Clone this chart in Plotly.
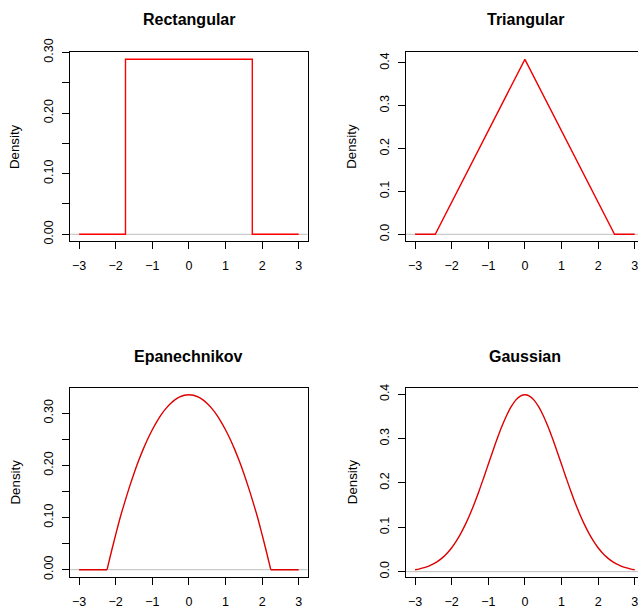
import plotly.graph_objects as go

# ---------------- data ----------------
titles = ["Rectangular", "Triangular", "Epanechnikov", "Gaussian"]

rect_x = [-3.0, -1.732, -1.732, 1.732, 1.732, 3.0]
rect_y = [0.0, 0.0, 0.2887, 0.2887, 0.0, 0.0]

tri_x = [-3.0, -2.449, 0.0, 2.449, 3.0]
tri_y = [0.0, 0.0, 0.4082, 0.0, 0.0]

# Epanechnikov: flat tails and the curved part (None separates the pieces)
epa_x = [-3.0, -2.236, None,
         -2.236, -2.125, -2.0, -1.875, -1.75, -1.625, -1.5, -1.375, -1.25, -1.125, -1.0,
         -0.875, -0.75, -0.625, -0.5, -0.375, -0.25, -0.125, 0.0,
         0.125, 0.25, 0.375, 0.5, 0.625, 0.75, 0.875, 1.0, 1.125, 1.25, 1.375, 1.5,
         1.625, 1.75, 1.875, 2.0, 2.125, 2.236, None,
         2.236, 3.0]
epa_y = [0.0, 0.0, None,
         0.0, 0.0325, 0.0671, 0.1006, 0.1300, 0.1583, 0.1845, 0.2086, 0.2306, 0.2505, 0.2683,
         0.2840, 0.2977, 0.3092, 0.3186, 0.3260, 0.3312, 0.3344, 0.3354,
         0.3344, 0.3312, 0.3260, 0.3186, 0.3092, 0.2977, 0.2840, 0.2683, 0.2505, 0.2306, 0.2086, 0.1845,
         0.1583, 0.1300, 0.1006, 0.0671, 0.0325, 0.0, None,
         0.0, 0.0]

gau_x = [-3.0, -2.875, -2.75, -2.625, -2.5, -2.375, -2.25, -2.125, -2.0, -1.875, -1.75, -1.625,
         -1.5, -1.375, -1.25, -1.125, -1.0, -0.875, -0.75, -0.625, -0.5, -0.375, -0.25, -0.125, 0.0,
         0.125, 0.25, 0.375, 0.5, 0.625, 0.75, 0.875, 1.0, 1.125, 1.25, 1.375, 1.5,
         1.625, 1.75, 1.875, 2.0, 2.125, 2.25, 2.375, 2.5, 2.625, 2.75, 2.875, 3.0]
gau_y = [0.0044, 0.0064, 0.0091, 0.0127, 0.0175, 0.0238, 0.0317, 0.0417, 0.0540, 0.0688, 0.0863, 0.1065,
         0.1295, 0.1550, 0.1826, 0.2119, 0.2420, 0.2720, 0.3011, 0.3282, 0.3521, 0.3719, 0.3867, 0.3958, 0.3989,
         0.3958, 0.3867, 0.3719, 0.3521, 0.3282, 0.3011, 0.2720, 0.2420, 0.2119, 0.1826, 0.1550, 0.1295,
         0.1065, 0.0863, 0.0688, 0.0540, 0.0417, 0.0317, 0.0238, 0.0175, 0.0127, 0.0091, 0.0064, 0.0044]

x_ticks = [-3, -2, -1, 0, 1, 2, 3]
x_labels = ["\u22123", "\u22122", "\u22121", "0", "1", "2", "3"]

y_ticks_a = [0.0, 0.05, 0.10, 0.15, 0.20, 0.25, 0.30]
y_labels_a = ["0.00", "", "0.10", "", "0.20", "", "0.30"]
y_ticks_b = [0.0, 0.1, 0.2, 0.3, 0.4]
y_labels_b = ["0.0", "0.1", "0.2", "0.3", "0.4"]

y_ranges = [[-0.01155, 0.30020], [-0.01633, 0.42458], [-0.01342, 0.34883], [-0.01135, 0.41470]]

# ---------------- layout geometry ----------------
W, H = 638, 606
LEFT_DOM = [70.3 / W, 307.5 / W]
RIGHT_DOM = [406.3 / W, 1.0]
TOP_DOM = [1 - 241.3 / H, 1 - 52.3 / H]
BOT_DOM = [1 - 576.7 / H, 1 - 387.7 / H]
x_ranges = [[-3.24, 3.24], [-3.24, 3.09], [-3.24, 3.24], [-3.24, 3.09]]

fig = go.Figure()

series = [(rect_x, rect_y, "#FF0000", "linear"), (tri_x, tri_y, "#F00000", "linear"),
          (epa_x, epa_y, "#DD0000", "spline"), (gau_x, gau_y, "#DD0000", "spline")]

for i, (xs, ys, col, shp) in enumerate(series):
    ax = "" if i == 0 else str(i + 1)
    fig.add_trace(go.Scatter(x=xs, y=ys, mode="lines", xaxis="x" + ax, yaxis="y" + ax,
                             line=dict(color=col, width=1.4, shape=shp, smoothing=1.0, simplify=False),
                             connectgaps=False, showlegend=False, hoverinfo="skip"))
    fig.add_shape(type="line", xref="x" + ax + " domain", yref="y" + ax,
                  x0=0, x1=1, y0=0, y1=0, line=dict(color="#BEBEBE", width=1), layer="below")

doms = [(LEFT_DOM, TOP_DOM), (RIGHT_DOM, TOP_DOM), (LEFT_DOM, BOT_DOM), (RIGHT_DOM, BOT_DOM)]
FONT = "Liberation Sans, Arial, sans-serif"
tickfont = dict(family=FONT, size=12.5, color="black")
layout = {}
for i, (xd, yd) in enumerate(doms):
    ax = "" if i == 0 else str(i + 1)
    right = i in (1, 3)
    yt, yl = (y_ticks_a, y_labels_a) if i in (0, 2) else (y_ticks_b, y_labels_b)
    layout["xaxis" + ax] = dict(domain=xd, anchor="y" + ax, range=x_ranges[i], automargin=False,
                                tickmode="array", tickvals=x_ticks, ticktext=x_labels,
                                ticks="outside", ticklen=7, tickwidth=1, tickcolor="black",
                                showline=True, linecolor="black", linewidth=1, mirror=True,
                                showgrid=False, zeroline=False, tickfont=tickfont,
                                ticklabelstandoff=6, ticklabeloverflow="allow", fixedrange=True)
    layout["yaxis" + ax] = dict(domain=yd, anchor="x" + ax, range=y_ranges[i], automargin=False,
                                tickmode="array", tickvals=yt, ticktext=yl,
                                ticks="outside", ticklen=7, tickwidth=1, tickcolor="black",
                                showline=True, linecolor="black", linewidth=1,
                                mirror=False if right else True,
                                showgrid=False, zeroline=False, tickfont=tickfont,
                                tickangle=-90, ticklabelstandoff=4, ticklabeloverflow="allow",
                                fixedrange=True)

annotations = []
centers_x = [(70.3 + 307.5) / 2, (406.3 + 644.0) / 2, (70.3 + 307.5) / 2, (406.3 + 644.0) / 2]
title_y = [20.0, 20.0, 356.0, 356.0]
dens_x = [15.3, 352.0, 15.3, 352.0]
box_mid_y = [(52.3 + 241.3) / 2, (52.3 + 241.3) / 2, (387.7 + 576.7) / 2, (387.7 + 576.7) / 2]
for i in range(4):
    annotations.append(dict(text="<b>" + titles[i] + "</b>", xref="paper", yref="paper",
                            x=centers_x[i] / W, y=1 - title_y[i] / H, xanchor="center", yanchor="middle",
                            showarrow=False, font=dict(family=FONT, size=16, color="black")))
    annotations.append(dict(text="Density", xref="paper", yref="paper",
                            x=dens_x[i] / W, y=1 - box_mid_y[i] / H, xanchor="center", yanchor="middle",
                            textangle=-90, showarrow=False, font=dict(family=FONT, size=13.3, color="black")))

fig.update_layout(template="none", width=W, height=H, margin=dict(l=0, r=0, t=0, b=0, pad=0),
                  paper_bgcolor="white", plot_bgcolor="white",
                  annotations=annotations, showlegend=False, **layout)

fig.write_html("out.html", config={"displayModeBar": False},
               post_script="document.body.style.margin='0';document.body.style.overflow='hidden';")
